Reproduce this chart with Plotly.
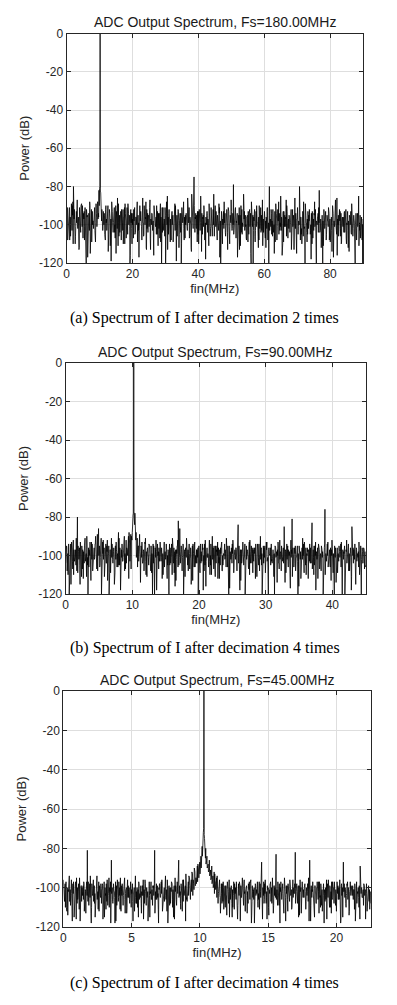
import numpy as np
import plotly.graph_objects as go

# ---------------- data ----------------
fs_list = [180.0, 90.0, 45.0]
titles = ["ADC Output Spectrum, Fs=180.00MHz",
          "ADC Output Spectrum, Fs=90.00MHz",
          "ADC Output Spectrum, Fs=45.00MHz"]
captions = ["(a) Spectrum of I after decimation 2 times",
            "(b) Spectrum of I after decimation 4 times",
            "(c) Spectrum of I after decimation 4 times"]
x_ticks = [[0, 20, 40, 60, 80], [0, 10, 20, 30, 40], [0, 5, 10, 15, 20]]
y_ticks = [0, -20, -40, -60, -80, -100, -120]
y_ticktext = ["0", "-20", "-40", "-60", "-80", "-100", "-120"]

# power per FFT bin (dB): bins 4k, bins 4k+2 and the odd bins 2k+1
power_a_even = [
    -100, -108, -93, -97, -104, -90, -80, -96, -101, -92, -99, -112, -94, -89, -103, -97,
    -91, -120, -95, -100, -88, -106, -94, -98, -91, -109, -96, -88, -82, 0, -84, -93,
    -99, -105, -90, -96, -114, -92, -97, -88, -101, -95, -107, -93, -86, -99, -104, -94,
    -97, -110, -91, -95, -102, -89, -98, -116, -94, -100, -92, -105, -96, -88, -103, -97,
    -93, -108, -99, -90, -96, -113, -94, -101, -87, -98, -95, -106, -92, -100, -97, -111,
    -94, -89, -120, -96, -102, -91, -98, -85, -105, -95, -100, -93, -109, -97, -90, -103,
    -96, -112, -94, -120, -99, -88, -104, -95, -101, -92, -107, -97, -84, -99, -75, -96,
    -102, -93, -110, -98, -90, -105, -95, -100, -118, -94, -97, -89, -106, -96, -101, -84,
    -99, -93, -108, -97, -91, -120, -95, -100, -88, -104, -96, -113, -93, -99, -87, -102,
    -79, -97, -106, -94, -100, -91, -111, -96, -102, -89, -98, -107, -95, -101, -92, -115,
    -97, -120, -94, -103, -90, -99, -108, -95, -101, -87, -104, -96, -112, -93, -100, -80,
    -98, -105, -92, -100, -109, -94, -97, -88, -103, -99, -116, -93, -101, -96, -90, -107,
    -95, -100, -113, -92, -98, -86, -104, -97, -101, -80, -96, -110, -94, -102, -89, -99,
    -105, -95, -100, -118, -93, -97, -88, -106, -99, -94, -82, -103, -97, -120, -92, -100,
    -108, -96, -91, -102, -98, -114, -94, -100, -87, -105, -97, -101, -93, -110, -96, -99,
    -104, -92, -100, -112, -95, -98, -89, -106, -97, -120, -101, -94, -85, -103, -99, -108,
]
power_a_mid = [
    -95, -102, -91, -106, -98, -88, -97, -110, -93, -100, -105, -96, -90, -101, -94, -108,
    -99, -93, -104, -97, -115, -92, -100, -95, -103, -89, -98, -94, -81, -83, -92, -101,
    -94, -108, -97, -91, -102, -96, -119, -93, -99, -104, -90, -97, -111, -95, -100, -92,
    -103, -96, -89, -107, -98, -94, -101, -92, -110, -97, -95, -104, -91, -99, -117, -96,
    -100, -93, -106, -97, -88, -102, -95, -99, -113, -94, -101, -90, -97, -105, -93, -98,
    -107, -96, -91, -103, -98, -120, -94, -100, -92, -109, -97, -95, -102, -89, -99, -106,
    -93, -98, -104, -91, -97, -108, -95, -101, -86, -99, -96, -112, -93, -88, -100, -94,
    -97, -105, -92, -99, -114, -96, -90, -103, -98, -95, -109, -93, -101, -97, -92, -106,
    -95, -101, -98, -89, -104, -96, -110, -93, -99, -102, -95, -91, -107, -97, -100, -94,
    -103, -92, -98, -117, -95, -100, -90, -105, -97, -93, -101, -96, -109, -94, -98, -88,
    -101, -96, -106, -93, -99, -112, -95, -91, -103, -98, -94, -107, -97, -100, -120, -95,
    -92, -99, -104, -96, -89, -108, -98, -94, -101, -96, -110, -93, -99, -87, -103, -97,
    -100, -94, -106, -98, -91, -102, -115, -96, -99, -93, -105, -97, -88, -101, -95, -109,
    -96, -92, -103, -98, -107, -94, -100, -120, -96, -91, -104, -99, -95, -111, -97, -93,
    -101, -98, -94, -109, -96, -90, -103, -97, -100, -116, -95, -92, -106, -98, -101, -94,
    -97, -110, -93, -100, -96, -104, -91, -99, -113, -95, -102, -98, -90, -107, -96, -120,
]
power_a_odd = [
    -97, -91, -104, -99, -93, -108, -96, -101, -89, -103, -95, -110, -98, -92, -100, -106,
    -94, -99, -87, -102, -96, -113, -91, -98, -104, -95, -100, -90, -107, -97, -93, -101,
    -98, -105, -92, -96, -117, -99, -94, -103, -90, -100, -96, -109, -93, -98, -102, -95,
    -91, -106, -99, -94, -101, -88, -97, -96, -90, -80, -83, -93, -98, -96, -103, -93,
    -100, -95, -108, -92, -99, -103, -96, -90, -105, -98, -94, -111, -97, -101, -93, -99,
    -104, -96, -91, -100, -97, -115, -94, -102, -98, -89, -106, -95, -100, -93, -108, -97,
    -99, -92, -103, -96, -110, -94, -98, -101, -91, -105, -97, -100, -95, -120, -93, -99,
    -102, -97, -94, -107, -98, -91, -104, -96, -100, -93, -109, -95, -99, -103, -90, -98,
    -96, -101, -93, -86, -99, -105, -94, -100, -97, -112, -92, -98, -104, -95, -101, -91,
    -107, -97, -100, -94, -103, -98, -116, -93, -99, -101, -96, -90, -105, -97, -94, -102,
    -98, -93, -109, -100, -96, -104, -91, -99, -97, -106, -95, -101, -88, -100, -113, -96,
    -94, -102, -99, -97, -108, -93, -100, -95, -104, -98, -91, -103, -97, -119, -95, -100,
    -92, -98, -105, -96, -101, -94, -110, -97, -99, -93, -102, -96, -107, -100, -94, -98,
    -103, -95, -99, -91, -106, -97, -100, -114, -94, -98, -102, -96, -90, -104, -97, -101,
    -95, -109, -98, -93, -100, -96, -103, -85, -99, -94, -105, -97, -101, -92, -108, -99,
    -96, -100, -93, -104, -98, -111, -95, -99, -102, -91, -97, -106, -94, -100, -98, -103,
    -90, -101, -97, -108, -95, -99, -103, -94, -117, -98, -100, -93, -105, -97, -96, -102,
    -99, -94, -106, -100, -92, -104, -98, -96, -101, -110, -95, -99, -93, -103, -97, -100,
    -105, -96, -98, -91, -107, -99, -94, -102, -97, -100, -113, -95, -98, -104, -92, -99,
    -101, -84, -97, -103, -95, -100, -108, -96, -99, -93, -105, -98, -101, -94, -120, -97,
    -100, -95, -103, -98, -92, -109, -97, -101, -94, -99, -106, -96, -90, -102, -98, -104,
    -95, -99, -111, -97, -100, -93, -105, -98, -96, -102, -91, -108, -99, -95, -103, -97,
    -101, -94, -98, -106, -96, -100, -115, -93, -99, -104, -97, -101, -92, -98, -105, -96,
    -99, -85, -103, -97, -100, -94, -109, -98, -95, -101, -97, -106, -93, -100, -98, -102,
    -96, -104, -99, -92, -107, -97, -101, -95, -113, -98, -100, -94, -103, -97, -91, -105,
    -98, -100, -95, -108, -96, -102, -99, -93, -106, -97, -101, -120, -95, -99, -104, -97,
    -93, -102, -98, -96, -105, -100, -94, -110, -97, -99, -103, -95, -101, -92, -107, -98,
    -100, -96, -104, -99, -93, -101, -97, -112, -95, -100, -98, -106, -94, -102, -97, -99,
    -105, -95, -98, -101, -92, -108, -97, -100, -96, -103, -99, -94, -117, -98, -101, -96,
    -99, -103, -86, -97, -100, -106, -95, -98, -102, -94, -109, -97, -100, -96, -104, -93,
    -101, -97, -107, -99, -95, -103, -98, -114, -96, -100, -93, -105, -97, -99, -102, -95,
    -98, -104, -100, -94, -108, -97, -101, -96, -111, -99, -95, -103, -98, -106, -100, -97,
]

power_b_even = [
    -104, -96, -110, -120, -99, -93, -107, -97, -101, -91, -80, -98, -105, -94, -100, -112,
    -95, -102, -90, -120, -97, -103, -93, -108, -99, -94, -101, -89, -86, -106, -96, -100,
    -92, -111, -98, -95, -104, -120, -97, -91, -102, -96, -109, -93, -100, -88, -105, -97,
    -94, -101, -90, -107, -96, -92, -88, -93, -90, -80, 0, -78, -88, -91, -95, -89,
    -97, -93, -103, -96, -91, -108, -99, -94, -102, -97, -120, -95, -100, -92, -106, -98,
    -103, -95, -99, -110, -93, -101, -97, -105, -120, -96, -100, -91, -104, -98, -113, -95,
    -82, -100, -96, -107, -94, -102, -98, -91, -105, -97, -101, -115, -95, -99, -93, -104,
    -97, -120, -100, -94, -103, -96, -108, -92, -99, -101, -95, -110, -97, -90, -104, -98,
    -102, -95, -99, -112, -96, -93, -105, -100, -97, -91, -106, -120, -98, -101, -94, -103,
    -99, -96, -108, -84, -100, -97, -104, -93, -101, -120, -95, -98, -107, -92, -100, -96,
    -103, -98, -94, -111, -97, -101, -90, -105, -99, -96, -102, -93, -109, -97, -100, -95,
    -104, -99, -120, -96, -101, -93, -107, -98, -95, -103, -100, -114, -94, -99, -97, -105,
    -92, -81, -100, -96, -108, -98, -120, -95, -102, -97, -91, -104, -99, -110, -96, -101,
    -94, -100, -83, -97, -105, -93, -99, -112, -96, -102, -95, -98, -107, -76, -100, -94,
    -103, -97, -101, -92, -109, -120, -96, -99, -104, -95, -100, -93, -106, -98, -120, -97,
    -101, -94, -108, -99, -85, -96, -102, -113, -97, -100, -93, -105, -120, -98, -96, -103,
]
power_b_mid = [
    -98, -106, -94, -101, -115, -97, -92, -103, -99, -108, -95, -100, -93, -111, -97, -102,
    -91, -99, -105, -96, -100, -113, -94, -98, -102, -90, -107, -97, -95, -101, -120, -93,
    -100, -96, -104, -92, -99, -109, -97, -94, -101, -115, -95, -98, -106, -91, -100, -97,
    -103, -95, -99, -92, -97, -90, -94, -89, -92, -79, -81, -86, -91, -96, -93, -100,
    -96, -104, -98, -93, -110, -97, -101, -95, -108, -99, -94, -103, -97, -118, -100, -96,
    -93, -101, -107, -97, -100, -95, -112, -98, -94, -104, -99, -96, -109, -101, -97, -92,
    -105, -98, -95, -101, -120, -97, -100, -93, -108, -99, -96, -102, -94, -106, -100, -97,
    -101, -95, -109, -98, -94, -103, -99, -116, -96, -100, -92, -105, -98, -101, -95, -111,
    -97, -93, -104, -100, -96, -108, -99, -94, -102, -97, -114, -95, -100, -98, -92, -106,
    -100, -97, -95, -103, -118, -99, -96, -101, -94, -107, -98, -100, -93, -104, -97, -109,
    -96, -102, -99, -94, -105, -100, -97, -120, -95, -101, -98, -93, -106, -99, -96, -103,
    -98, -111, -95, -100, -97, -104, -92, -99, -101, -96, -108, -98, -94, -103, -100, -117,
    -97, -94, -106, -99, -101, -95, -103, -98, -112, -96, -100, -93, -105, -99, -97, -101,
    -104, -96, -99, -110, -95, -101, -98, -94, -107, -100, -97, -120, -96, -102, -99, -93,
    -100, -106, -97, -95, -103, -99, -114, -96, -101, -98, -94, -108, -100, -97, -105, -92,
    -99, -103, -96, -118, -100, -97, -94, -106, -101, -98, -110, -95, -100, -104, -97, -106,
]
power_b_odd = [
    -101, -95, -108, -99, -104, -97, -112, -100, -94, -106, -98, -103, -96, -110, -99, -102,
    -97, -105, -100, -93, -109, -98, -102, -96, -115, -99, -101, -95, -107, -100, -98, -104,
    -94, -103, -99, -111, -97, -101, -96, -106, -100, -93, -108, -98, -102, -95, -104, -99,
    -96, -101, -94, -99, -103, -97, -108, -93, -100, -95, -105, -98, -91, -102, -97, -99,
    -102, -96, -107, -99, -94, -104, -98, -113, -100, -95, -103, -97, -109, -99, -101, -96,
    -104, -98, -100, -111, -95, -102, -97, -106, -99, -93, -105, -100, -96, -118, -98, -101,
    -97, -103, -99, -95, -108, -101, -94, -104, -98, -100, -96, -112, -99, -103, -95, -107,
    -94, -88, -83, -78, -77, -84, -88, -92, -101, -97, -106, -95, -103, -100, -98, -114,
    -95, -101, -99, -104, -97, -108, -100, -94, -103, -98, -111, -96, -100, -105, -97, -99,
    -102, -95, -109, -100, -97, -104, -99, -120, -96, -101, -98, -105, -94, -100, -107, -98,
    -101, -97, -103, -96, -112, -99, -100, -95, -106, -98, -102, -94, -108, -100, -97, -104,
    -99, -105, -97, -101, -94, -110, -98, -103, -96, -100, -116, -97, -102, -99, -95, -106,
    -98, -101, -86, -104, -99, -97, -108, -100, -95, -103, -98, -111, -96, -101, -99, -105,
    -97, -100, -94, -107, -101, -98, -103, -96, -113, -99, -102, -95, -106, -100, -97, -104,
    -100, -96, -109, -98, -102, -95, -104, -99, -101, -97, -118, -100, -94, -105, -98, -103,
    -96, -101, -99, -106, -97, -103, -100, -94, -110, -98, -102, -96, -107, -99, -101, -95,
    -104, -98, -100, -112, -96, -101, -97, -105, -99, -94, -108, -100, -103, -97, -96, -102,
    -99, -106, -97, -101, -95, -103, -100, -117, -98, -102, -96, -104, -99, -94, -109, -100,
    -97, -102, -96, -108, -100, -98, -104, -95, -101, -99, -113, -97, -103, -100, -96, -105,
    -101, -94, -107, -99, -102, -97, -100, -106, -96, -110, -98, -101, -95, -104, -99, -97,
    -103, -99, -96, -112, -100, -98, -105, -97, -101, -94, -108, -100, -102, -96, -99, -106,
    -98, -104, -100, -95, -109, -99, -97, -103, -101, -120, -96, -100, -98, -105, -94, -102,
    -100, -97, -106, -99, -103, -96, -101, -98, -114, -100, -95, -104, -97, -102, -99, -108,
    -96, -101, -98, -104, -85, -100, -97, -109, -99, -102, -95, -106, -100, -98, -103, -97,
    -101, -99, -111, -96, -100, -104, -98, -95, -107, -101, -97, -103, -99, -116, -96, -100,
    -98, -105, -97, -102, -100, -94, -109, -99, -101, -96, -104, -100, -98, -112, -97, -103,
    -100, -96, -104, -99, -107, -97, -101, -95, -103, -100, -118, -98, -102, -96, -105, -99,
    -97, -102, -99, -108, -96, -101, -100, -105, -98, -94, -110, -99, -103, -97, -100, -106,
    -101, -98, -104, -96, -113, -100, -97, -102, -99, -107, -95, -101, -100, -104, -97, -109,
    -99, -103, -96, -101, -98, -106, -100, -120, -97, -102, -99, -95, -105, -100, -98, -104,
    -100, -97, -108, -99, -103, -96, -101, -111, -98, -100, -104, -97, -102, -99, -115, -96,
    -103, -99, -101, -106, -97, -100, -98, -109, -102, -96, -104, -100, -99, -107, -98, -105,
]

power_c_even = [
    -96, -107, -99, -112, -101, -94, -109, -103, -98, -115, -100, -95, -106, -102, -117, -99,
    -104, -97, -110, -101, -81, -105, -98, -113, -100, -96, -108, -103, -94, -111, -99, -105,
    -101, -116, -97, -104, -100, -109, -95, -102, -86, -107, -99, -118, -103, -96, -105, -100,
    -112, -98, -104, -95, -101, -110, -99, -106, -97, -103, -117, -100, -94, -108, -102, -98,
    -105, -113, -99, -101, -96, -109, -103, -100, -115, -97, -104, -99, -81, -106, -101, -111,
    -98, -103, -96, -108, -100, -94, -105, -118, -99, -102, -97, -110, -101, -95, -106, -100,
    -86, -104, -98, -112, -96, -101, -93, -107, -97, -95, -100, -92, -96, -90, -99, -91,
    -88, -92, -85, -81, -74, 0, -76, -82, -86, -89, -87, -92, -90, -95, -93, -98,
    -94, -103, -96, -100, -108, -97, -104, -99, -114, -101, -96, -106, -100, -110, -98, -103,
    -97, -116, -101, -99, -105, -95, -109, -102, -100, -113, -98, -104, -96, -107, -101, -118,
    -99, -103, -110, -97, -102, -87, -100, -108, -96, -105, -101, -114, -98, -103, -95, -109,
    -100, -83, -104, -99, -112, -97, -102, -106, -95, -117, -101, -98, -105, -100, -111, -96,
    -103, -82, -99, -108, -101, -96, -113, -100, -104, -98, -107, -102, -95, -86, -109, -101,
    -98, -115, -103, -100, -106, -97, -110, -102, -99, -118, -104, -96, -101, -108, -100, -113,
    -97, -105, -102, -110, -99, -104, -96, -116, -101, -87, -103, -108, -98, -100, -112, -104,
    -99, -106, -101, -117, -97, -103, -110, -89, -100, -105, -98, -114, -102, -107, -99, -111,
]
power_c_mid = [
    -103, -98, -110, -101, -96, -106, -100, -117, -97, -104, -99, -108, -102, -95, -105, -100,
    -99, -112, -102, -97, -107, -101, -94, -110, -103, -99, -115, -100, -105, -97, -102, -108,
    -98, -104, -101, -111, -96, -103, -100, -118, -99, -106, -102, -97, -109, -101, -104, -95,
    -102, -107, -99, -113, -100, -96, -105, -101, -110, -98, -103, -97, -108, -100, -115, -101,
    -99, -104, -96, -108, -102, -100, -117, -97, -103, -106, -99, -101, -111, -98, -105, -100,
    -104, -97, -112, -101, -99, -106, -96, -103, -109, -100, -98, -105, -116, -99, -102, -97,
    -103, -108, -100, -96, -104, -99, -106, -97, -94, -101, -96, -93, -98, -92, -95, -89,
    -91, -87, -84, -79, -72, -75, -80, -84, -88, -86, -91, -89, -94, -92, -97, -95,
    -100, -96, -105, -98, -102, -111, -99, -104, -97, -108, -101, -99, -115, -103, -98, -106,
    -101, -104, -97, -109, -100, -103, -96, -112, -99, -105, -101, -98, -118, -102, -106, -99,
    -103, -97, -106, -101, -99, -110, -104, -98, -102, -116, -100, -105, -97, -108, -101, -99,
    -105, -101, -97, -109, -100, -104, -98, -113, -102, -99, -106, -101, -96, -110, -103, -100,
    -98, -107, -102, -99, -114, -101, -97, -105, -100, -109, -103, -98, -117, -101, -104, -97,
    -102, -99, -108, -101, -97, -105, -100, -112, -98, -103, -106, -100, -96, -110, -102, -105,
    -100, -97, -109, -103, -99, -106, -101, -98, -115, -102, -100, -104, -97, -111, -101, -99,
    -104, -101, -98, -108, -102, -100, -113, -97, -105, -101, -99, -116, -103, -100, -107, -102,
]
power_c_odd = [
    -99, -105, -101, -110, -97, -103, -100, -114, -102, -98, -107, -101, -104, -96, -112, -100,
    -103, -99, -108, -101, -97, -116, -102, -100, -105, -98, -111, -101, -104, -99, -107, -102,
    -100, -106, -98, -103, -101, -113, -99, -104, -102, -97, -109, -101, -105, -100, -118, -98,
    -104, -101, -107, -99, -103, -110, -100, -97, -106, -102, -99, -112, -101, -104, -98, -108,
    -101, -99, -105, -102, -115, -100, -103, -98, -107, -101, -104, -99, -110, -102, -97, -106,
    -103, -100, -108, -98, -102, -105, -101, -117, -99, -104, -100, -107, -97, -103, -111, -101,
    -99, -104, -102, -109, -100, -98, -106, -103, -101, -113, -99, -105, -102, -100, -108, -97,
    -104, -101, -99, -107, -103, -100, -112, -98, -105, -102, -100, -110, -101, -97, -106, -103,
    -100, -108, -102, -99, -104, -116, -101, -103, -98, -107, -100, -105, -102, -111, -99, -104,
    -102, -97, -106, -101, -109, -100, -104, -98, -113, -102, -100, -106, -99, -103, -118, -101,
    -98, -105, -101, -103, -99, -110, -102, -100, -107, -97, -104, -101, -112, -99, -105, -100,
    -103, -100, -108, -102, -98, -106, -101, -115, -99, -104, -102, -100, -109, -97, -103, -101,
    -105, -99, -102, -111, -100, -104, -98, -107, -101, -103, -100, -117, -99, -105, -102, -100,
    -104, -101, -99, -106, -98, -102, -100, -104, -97, -101, -96, -99, -95, -98, -94, -97,
    -93, -95, -91, -93, -89, -90, -87, -84, -80, -70, -73, -81, -85, -88, -86, -90,
    -89, -92, -91, -94, -93, -96, -95, -98, -96, -100, -98, -103, -97, -101, -99, -105,
    -100, -108, -102, -99, -104, -113, -101, -103, -98, -107, -100, -105, -102, -110, -99, -104,
    -101, -98, -106, -102, -115, -100, -103, -99, -108, -101, -104, -97, -111, -102, -100, -106,
    -103, -100, -109, -98, -104, -101, -117, -99, -105, -102, -100, -107, -98, -103, -112, -101,
    -99, -104, -102, -108, -100, -97, -106, -103, -101, -114, -99, -105, -102, -100, -109, -98,
    -104, -101, -99, -107, -103, -100, -111, -98, -105, -102, -100, -116, -101, -97, -106, -103,
    -100, -108, -102, -99, -104, -110, -101, -103, -98, -107, -100, -105, -102, -113, -99, -104,
    -102, -97, -106, -101, -109, -100, -104, -98, -118, -102, -100, -106, -99, -103, -108, -101,
    -98, -105, -101, -103, -99, -112, -102, -100, -107, -97, -104, -101, -110, -99, -105, -100,
    -103, -100, -108, -102, -98, -106, -101, -115, -99, -104, -102, -100, -109, -97, -103, -101,
    -105, -99, -102, -111, -100, -104, -98, -107, -101, -103, -100, -117, -99, -105, -102, -100,
    -101, -106, -99, -103, -108, -100, -97, -105, -102, -113, -100, -104, -98, -109, -101, -103,
    -99, -104, -101, -107, -100, -102, -116, -98, -105, -101, -103, -99, -110, -102, -97, -106,
    -102, -100, -108, -99, -104, -101, -112, -97, -103, -106, -100, -105, -101, -118, -99, -104,
    -100, -107, -102, -98, -105, -101, -110, -103, -99, -106, -100, -114, -102, -97, -104, -101,
    -103, -99, -106, -101, -111, -100, -104, -98, -108, -102, -100, -105, -99, -116, -101, -103,
    -100, -105, -102, -109, -99, -104, -101, -107, -98, -112, -103, -100, -106, -101, -104, -108,
]

spectra = [(power_a_even, power_a_mid, power_a_odd),
           (power_b_even, power_b_mid, power_b_odd),
           (power_c_even, power_c_mid, power_c_odd)]


def interleave(a, b):
    n = min(len(a), len(b))
    out = np.empty(2 * n)
    out[0::2] = a[:n]
    out[1::2] = b[:n]
    return out


def assemble(even, mid, odd):
    return interleave(interleave(even, mid), odd)


# ---------------- layout geometry ----------------
# the page body has an 8px margin, so the figure sits at (8, 8) in the window
OFF = 8
W, H = 397 - OFF, 1005 - OFF
boxes = [  # left, right, top, bottom in window pixels
    (66.5, 363.0, 33.5, 263.0),
    (65.7, 365.7, 363.0, 594.0),
    (63.3, 370.7, 691.0, 927.0),
]
caption_y = [318, 648, 983]
FONT = "Liberation Sans, Arial, sans-serif"
AXC = "#262626"


def px_x(v):
    return (v - OFF) / W


def px_y(v):
    return 1 - (v - OFF) / H


fig = go.Figure()
annotations = []
for k in range(3):
    fmax = fs_list[k] / 2
    y = assemble(*spectra[k])
    x = np.linspace(0, fmax, len(y))
    xa = "x" if k == 0 else f"x{k+1}"
    ya = "y" if k == 0 else f"y{k+1}"
    fig.add_trace(go.Scatter(x=x, y=y, mode="lines",
                             line=dict(color="black", width=0.8),
                             xaxis=xa, yaxis=ya, showlegend=False,
                             hoverinfo="skip"))
    l, r, t, b = boxes[k]
    axname = "xaxis" if k == 0 else f"xaxis{k+1}"
    ayname = "yaxis" if k == 0 else f"yaxis{k+1}"
    common = dict(showline=True, linecolor=AXC, linewidth=1, mirror="ticks",
                  ticks="inside", ticklen=4, tickcolor=AXC, automargin=False,
                  showgrid=True, gridcolor="#dedede", gridwidth=1, zeroline=False,
                  tickfont=dict(family=FONT, size=12, color=AXC))
    fig.update_layout(**{
        axname: dict(common, domain=[px_x(l), px_x(r)], range=[0, fmax],
                     tickvals=x_ticks[k], anchor=ya,
                     title=dict(text="fin(MHz)", standoff=2,
                                font=dict(family=FONT, size=13, color=AXC))),
        ayname: dict(common, domain=[px_y(b), px_y(t)], range=[-120, 0],
                     tickvals=y_ticks, ticktext=y_ticktext, anchor=xa,
                     title=dict(text="Power (dB)", standoff=6,
                                font=dict(family=FONT, size=13, color=AXC))),
    })
    annotations.append(dict(text=titles[k], x=px_x((l + r) / 2), y=px_y(t - 1),
                            xref="paper", yref="paper", xanchor="center", yanchor="bottom",
                            showarrow=False,
                            font=dict(family=FONT, size=14, color="#1a1a1a")))
    annotations.append(dict(text=captions[k], x=px_x(198.5 + 6), y=px_y(caption_y[k]),
                            xref="paper", yref="paper", xanchor="center", yanchor="middle",
                            showarrow=False,
                            font=dict(family="Liberation Serif, Times New Roman, serif",
                                      size=16, color="black")))

fig.update_layout(width=W, height=H, margin=dict(l=0, r=0, t=0, b=0),
                  paper_bgcolor="white", plot_bgcolor="white",
                  annotations=annotations)
fig.write_html("out.html")
